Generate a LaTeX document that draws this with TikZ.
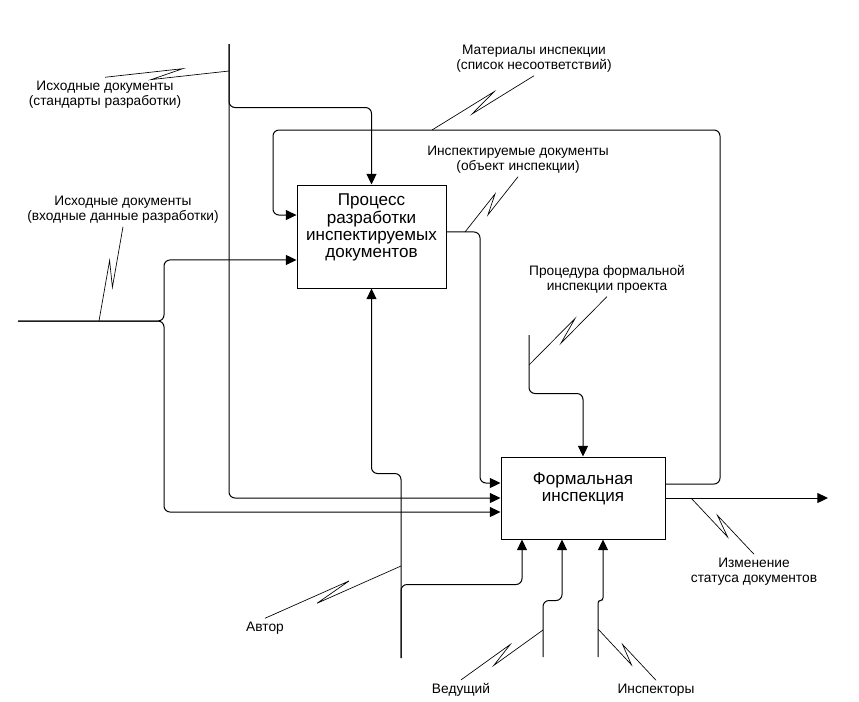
\documentclass[tikz,border=0pt]{standalone}
\usepackage{fontspec}
\setmainfont{Liberation Sans}
\usetikzlibrary{calc,arrows.meta,positioning}

\begin{document}
\begin{tikzpicture}[x=0.75pt,y=-0.75pt,
    func/.style={draw,line width=0.75pt,inner sep=0pt},
    functext/.style={align=center,inner sep=0pt,font=\fontsize{12.8}{12.9}\selectfont},
    lbl/.style={align=center,inner sep=2.5pt,font=\fontsize{10.3}{11.25}\selectfont},
    flow/.style={line width=0.75pt,rounded corners=4.5pt,-{Triangle[length=8pt,width=7.5pt]}},
    squigL/.style={line width=0.5pt,to path={-- ($(\tikztostart)!.63!(\tikztotarget)!3.5pt!90:(\tikztotarget)$) -- ($(\tikztostart)!.37!(\tikztotarget)!3.5pt!-90:(\tikztotarget)$) -- (\tikztotarget)}},
    squigR/.style={line width=0.5pt,to path={-- ($(\tikztostart)!.63!(\tikztotarget)!3.5pt!-90:(\tikztotarget)$) -- ($(\tikztostart)!.37!(\tikztotarget)!3.5pt!90:(\tikztotarget)$) -- (\tikztotarget)}}]
    \useasboundingbox (0,0) rectangle (859,701);

    % activities
    \node[func,minimum width=111.75pt,minimum height=77.25pt] (dev) at (371.5,236.5) {};
    \node[functext] (devText) at ([yshift=6.75pt]dev.center) {Процесс\\разработки\\инспектируемых\\документов};
    \node[func,minimum width=123pt,minimum height=61.5pt] (insp) at (583,498) {};
    \node[functext] (inspText) at ([yshift=6.75pt]insp.center) {Формальная\\инспекция};

    % labels
    \node[lbl] (lblStd) at (105,94.5) {Исходные документы\\(стандарты разработки)};
    \node[lbl] (lblDat) at (123,209.5) {Исходные документы\\(входные данные разработки)};
    \node[lbl] (lblFb) at (534,58.5) {Материалы инспекции\\(список несоответствий)};
    \node[lbl] (lblDoc) at (518,159.5) {Инспектируемые документы\\(объект инспекции)};
    \node[lbl] (lblProc) at (607,279) {Процедура формальной\\инспекции проекта};
    \node[lbl] (lblStat) at (754,571.5) {Изменение\\статуса документов};
    \node[lbl] (lblAuth) at (265,628) {Автор};
    \node[lbl] (lblLead) at (461,690) {Ведущий};
    \node[lbl] (lblInsp) at (656,690) {Инспекторы};

    % free ends and bends
    \coordinate (stdIn) at (229,44);
    \coordinate (datIn) at (18,321);
    \coordinate (datFork) at (164,321);
    \coordinate (procIn) at (529,335);
    \coordinate (authIn) at (401,658);
    \coordinate (leadIn) at (543,657);
    \coordinate (inspIn) at (598,657);
    \coordinate (outEnd) at (828,498);
    \coordinate (fbR) at (720,130);
    \coordinate (fbL) at (273,130);
    \coordinate (docBend) at (480,360);

    % arrows
    \draw[flow] (stdIn) |- ([yshift=57.75pt]dev.north) -- (dev.north);
    \draw[flow] (stdIn) |- (insp.west);
    \draw[flow] (datIn) -- (datFork) |- ([yshift=-17.6pt]dev.west);
    \draw[flow] (datIn) -- (datFork) |- ([yshift=-10.5pt]insp.west);
    \draw[flow] ([yshift=10.5pt]insp.east) -| (fbR) -- (fbL) |- ([yshift=16.1pt]dev.west);
    \draw[flow] ([yshift=3.4pt]dev.east) -| (docBend) |- ([yshift=11.25pt]insp.west);
    \draw[flow] (procIn) |- ([yshift=47.25pt]insp.north) -- (insp.north);
    \draw[flow] (insp.east) -- (outEnd);
    \draw[flow] (authIn) |- ([yshift=-138.75pt]dev.south) -- (dev.south);
    \draw[flow] (authIn) |- ([xshift=-45.75pt,yshift=-33.75pt]insp.south) -- ([xshift=-45.75pt]insp.south);
    \draw[flow] (leadIn) |- ([xshift=-15.75pt,yshift=-45.75pt]insp.south) -- ([xshift=-15.75pt]insp.south);
    \draw[flow,rounded corners=2pt] (inspIn) |- ([xshift=15pt,yshift=-45.75pt]insp.south) -- ([xshift=15pt]insp.south);

    % squiggles
    \coordinate (tStd) at (229,71);
    \coordinate (tDat) at (99,321);
    \coordinate (tFb) at (432,130);
    \coordinate (tDoc) at (465,232);
    \coordinate (tProc) at (529,365);
    \coordinate (tStat) at (691,498);
    \coordinate (tAuth) at (401,566);
    \coordinate (tLead) at (543,630);
    \coordinate (tInsp) at (598,629);
    \draw[squigL] (tStd) to (lblStd.north);
    \draw[squigL] (tDat) to (lblDat.south);
    \draw[squigL] (tFb) to (lblFb.south);
    \draw[squigL] (tDoc) to (lblDoc.south);
    \draw[squigL] (tProc) to (lblProc.south);
    \draw[squigR] (tStat) to (lblStat.north);
    \draw[squigL] (tAuth) to (lblAuth.north);
    \draw[squigL] (tLead) to (lblLead.north);
    \draw[squigR] (tInsp) to (lblInsp.north);
\end{tikzpicture}
\end{document}
